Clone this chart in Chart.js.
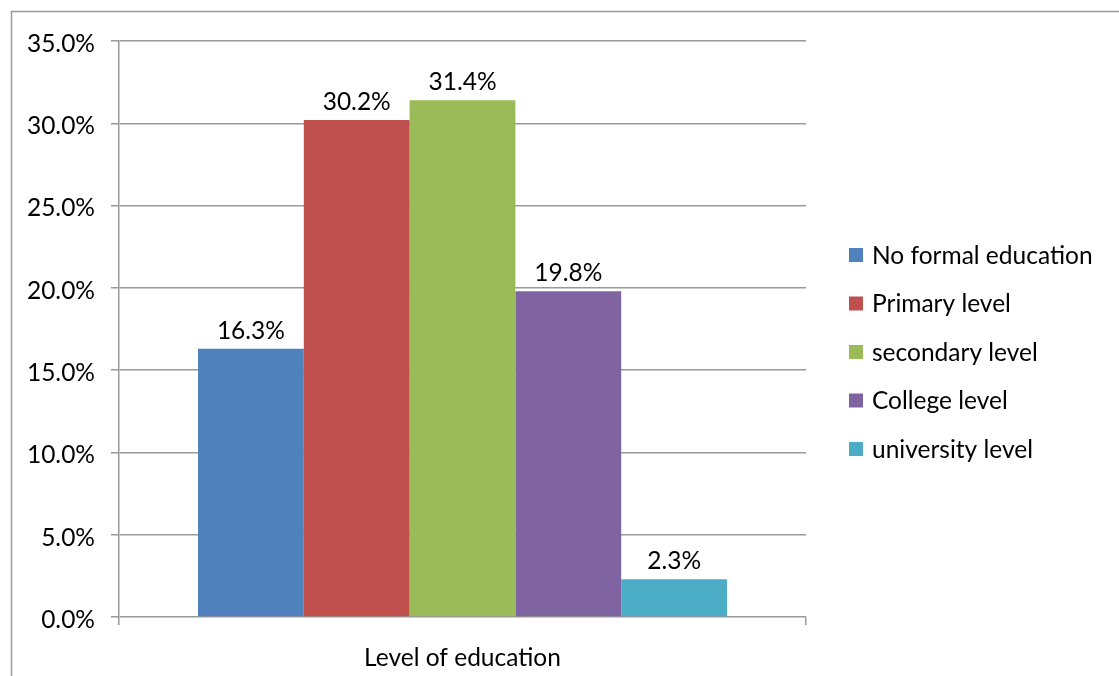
<!DOCTYPE html>
<html>
<head>
<meta charset="utf-8">
<script src="https://cdn.jsdelivr.net/npm/chart.js@4"></script>
<style>
  html, body { margin: 0; padding: 0; background: #fff; }
  #wrap { width: 1119px; height: 676px; position: relative; }
</style>
</head>
<body>
<div id="wrap"><canvas id="edu"></canvas></div>
<script>
  const categories = ["Level of education"];
  const seriesNames = ["No formal education", "Primary level", "secondary level", "College level", "university level"];
  const seriesValues = [16.3, 30.2, 31.4, 19.8, 2.3];
  const seriesColors = ["#4F81BD", "#C0504D", "#9BBB59", "#8064A2", "#4BACC6"];

  const FONT = "Lato, 'Noto Sans', sans-serif";
  const FSIZE = 24.5;

  // value labels above each bar
  const barLabels = {
    id: "barLabels",
    afterDatasetsDraw(chart) {
      const ctx = chart.ctx;
      ctx.save();
      ctx.font = FSIZE + "px " + FONT;
      ctx.fillStyle = "#000";
      ctx.textAlign = "center";
      ctx.textBaseline = "alphabetic";
      chart.data.datasets.forEach(function (ds, i) {
        const bar = chart.getDatasetMeta(i).data[0];
        ctx.fillText(ds.data[0].toFixed(1) + "%", bar.x, bar.y - 10);
      });
      ctx.restore();
    },
  };

  // outer frame + legend on the right
  const frameLegend = {
    id: "frameLegend",
    beforeDraw(chart) {
      const ctx = chart.ctx;
      ctx.save();
      ctx.strokeStyle = "#9a9a9a";
      ctx.lineWidth = 1.5;
      ctx.strokeRect(11.5, 11.5, 1300, 1300);
      ctx.restore();
    },
    afterDraw(chart) {
      const ctx = chart.ctx;
      ctx.save();
      ctx.font = FSIZE + "px " + FONT;
      ctx.textBaseline = "middle";
      ctx.textAlign = "left";
      chart.data.datasets.forEach(function (ds, i) {
        const y = 255 + i * 48.5;
        ctx.fillStyle = ds.backgroundColor;
        ctx.fillRect(849, y - 7, 14, 14);
        ctx.fillStyle = "#000";
        ctx.fillText(ds.label, 872, y + 1);
      });
      ctx.restore();
    },
  };

  new Chart(document.getElementById("edu"), {
    type: "bar",
    data: {
      labels: categories,
      datasets: seriesNames.map(function (name, i) {
        return {
          label: name,
          data: [seriesValues[i]],
          backgroundColor: seriesColors[i],
          borderWidth: 0,
          categoryPercentage: 0.77,
          barPercentage: 1.0,
        };
      }),
    },
    options: {
      responsive: true,
      maintainAspectRatio: false,
      animation: false,
      layout: { padding: { left: 11, top: 41, right: 313, bottom: 0 } },
      plugins: {
        legend: { display: false },
        tooltip: { enabled: false },
      },
      scales: {
        x: {
          grid: {
            drawOnChartArea: false,
            drawTicks: true,
            tickLength: 8,
            color: "#999",
            lineWidth: 1.5,
          },
          border: { display: false },
          ticks: {
            color: "#000",
            font: { family: FONT, size: FSIZE },
            padding: 18,
          },
          afterFit(scale) { scale.height = 59; },
        },
        y: {
          min: 0,
          max: 35,
          ticks: {
            stepSize: 5,
            color: "#000",
            font: { family: FONT, size: FSIZE },
            padding: 16,
            labelOffset: 3,
            callback: function (v) { return v.toFixed(1) + "%"; },
          },
          grid: {
            color: "#999",
            lineWidth: 1.5,
            tickLength: 8,
          },
          border: { display: true, color: "#999", width: 1.5 },
          afterFit(scale) { scale.width = 108; },
        },
      },
    },
    plugins: [barLabels, frameLegend],
  });
</script>
</body>
</html>
